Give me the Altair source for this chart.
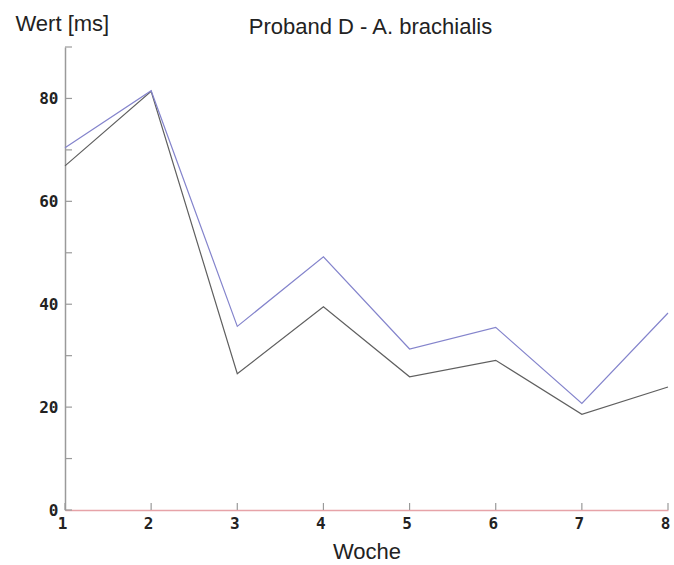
import altair as alt
import pandas as pd

# ---- data ----
weeks = [1, 2, 3, 4, 5, 6, 7, 8]
series_blue = [70.4, 81.5, 35.7, 49.2, 31.3, 35.5, 20.7, 38.3]
series_gray = [66.9, 81.4, 26.5, 39.5, 25.9, 29.1, 18.6, 23.9]
y_tick_values = [0, 10, 20, 30, 40, 50, 60, 70, 80, 90]
y_label_values = [0, 20, 40, 60, 80]
x_tick_values = weeks

W, H = 603, 463

df = pd.DataFrame({
    "Woche": weeks * 2,
    "Wert": series_gray + series_blue,
    "Serie": ["grau"] * len(weeks) + ["blau"] * len(weeks),
})
ytick_df = pd.DataFrame({"Wert": y_tick_values})
xtick_df = pd.DataFrame({"Woche": x_tick_values})

xs = alt.Scale(domain=[1, 8], nice=False, zero=False)
ys = alt.Scale(domain=[0, 90], nice=False)

label_font = "DejaVu Sans Mono"
title_font = "Liberation Sans"

x_axis = alt.Axis(
    values=x_tick_values, format="d", ticks=False, grid=False,
    domainColor="#e6a3a8", domainWidth=1.6,
    labelFont=label_font, labelFontWeight="bold", labelFontSize=16,
    labelColor="#222222", labelPadding=5, labelFlush=False, labelOffset=-3,
    title="Woche", titleFont=title_font, titleFontSize=22,
    titleFontWeight="normal", titleColor="#222222",
    titleBaseline="alphabetic", titleY=48,
)
y_axis = alt.Axis(
    values=y_label_values, ticks=False, grid=False,
    domainColor="#9a9a9a", domainWidth=1.5,
    labelFont=label_font, labelFontWeight="bold", labelFontSize=16,
    labelColor="#222222", labelPadding=7,
    title="Wert [ms]", titleFont=title_font, titleFontSize=22,
    titleFontWeight="normal", titleColor="#222222",
    titleAngle=0, titleAlign="left", titleBaseline="alphabetic",
    titleX=-50, titleY=-17,
)

lines = alt.Chart(df).mark_line(strokeWidth=1.2).encode(
    x=alt.X("Woche:Q", scale=xs, axis=x_axis),
    y=alt.Y("Wert:Q", scale=ys, axis=y_axis),
    color=alt.Color(
        "Serie:N",
        scale=alt.Scale(domain=["grau", "blau"], range=["#5f5f5f", "#8484cc"]),
        legend=None,
    ),
)

yticks = alt.Chart(ytick_df).mark_rule(color="#9a9a9a", strokeWidth=1.2).encode(
    y=alt.Y("Wert:Q", scale=ys, axis=y_axis),
    x=alt.value(0),
    x2=alt.value(7),
)

xticks = alt.Chart(xtick_df).mark_rule(color="#9a9a9a", strokeWidth=1.2).encode(
    x=alt.X("Woche:Q", scale=xs, axis=x_axis),
    y=alt.value(H),
    y2=alt.value(H - 7),
)

chart = alt.layer(lines, yticks, xticks).properties(
    width=W,
    height=H,
    background="white",
    title=alt.TitleParams(
        "Proband D - A. brachialis", font=title_font, fontSize=22,
        fontWeight="normal", color="#222222", anchor="middle", dx=4, dy=31,
    ),
    padding={"left": 65, "top": 47, "right": 6, "bottom": 55},
    autosize=alt.AutoSizeParams(type="none"),
).configure_view(stroke=None)

chart.save("out.html", embed_options={"renderer": "svg", "actions": False})
